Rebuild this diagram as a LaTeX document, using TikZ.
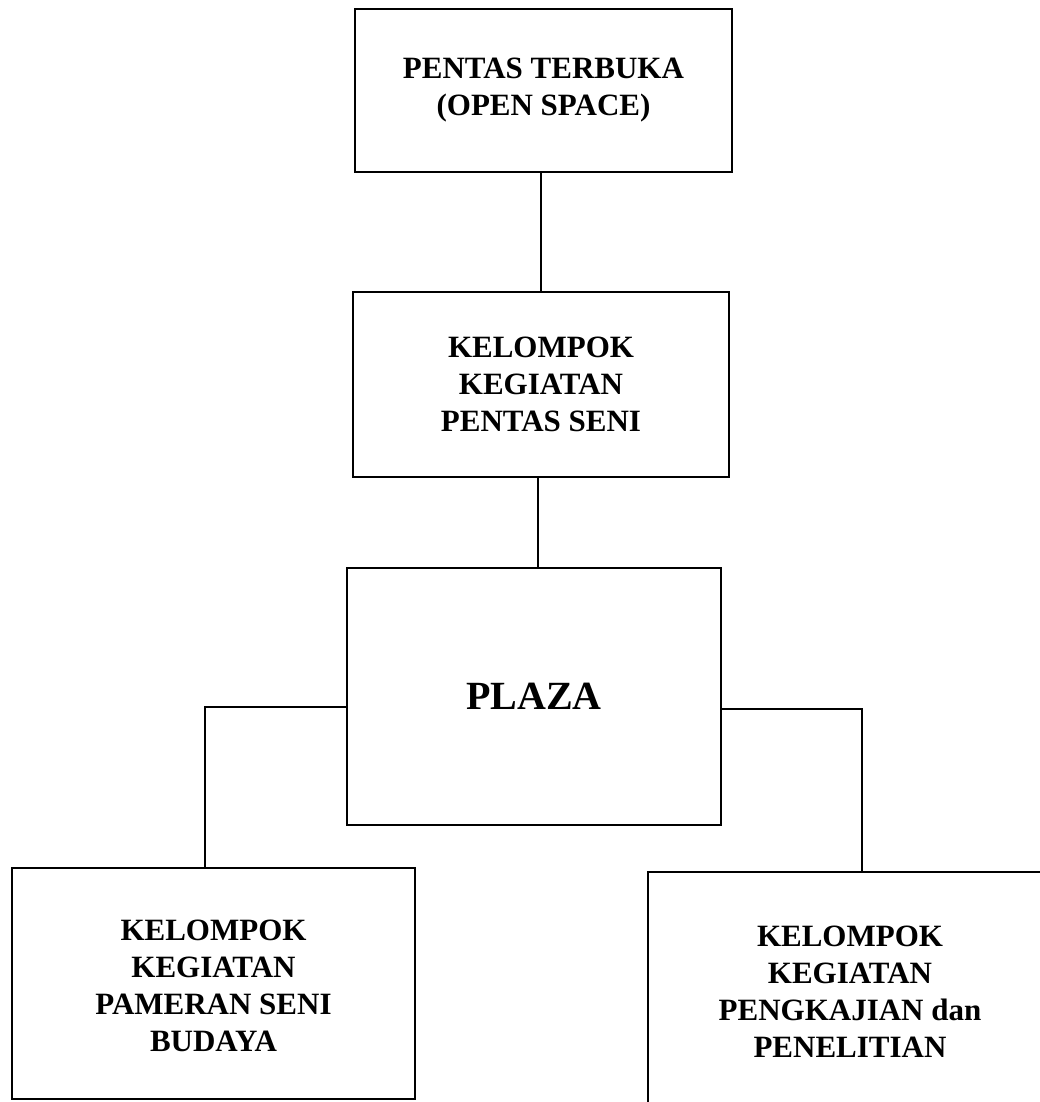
\documentclass[tikz,border=0pt]{standalone}
\usepackage{fontspec}
\setmainfont{Liberation Serif}
\begin{document}
\begin{tikzpicture}[x=1pt, y=-1pt,
  box/.style={draw, line width=2pt, inner sep=0pt, align=center,
    font=\bfseries\fontsize{31}{37}\selectfont},
  link/.style={line width=1.8pt}]
\useasboundingbox (0,0) rectangle (1040,1102);

% boxes
\node[box, minimum width=377pt, minimum height=163pt] (b1) at (543.5,90.5)
  {PENTAS TERBUKA\\(OPEN SPACE)};
\node[box, minimum width=376pt, minimum height=185pt] (b2) at (541,384)
  {KELOMPOK\\KEGIATAN\\PENTAS SENI};
\node[box, minimum width=374pt, minimum height=257pt,
  font=\bfseries\fontsize{40}{48}\selectfont] (b3) at (534,696.5) {PLAZA};
\node[box, minimum width=403pt, minimum height=231pt] (b4) at (213.5,983.5)
  {\\[-12pt]KELOMPOK\\KEGIATAN\\PAMERAN SENI\\BUDAYA};
\node[box, minimum width=404pt, minimum height=240pt] (b5) at (850,992)
  {KELOMPOK\\KEGIATAN\\PENGKAJIAN dan\\PENELITIAN};

% elbow points of the side branches
\coordinate (jl) at (205,707);
\coordinate (jr) at (862,709);

% connectors
\draw[link] (b2.north -| 541,0) -- (b1.south -| 541,0);
\draw[link] (b2.south -| 538,0) -- (b3.north -| 538,0);
\draw[link] (b3.west |- jl) -- (jl) -- (jl |- b4.north);
\draw[link] (b3.east |- jr) -- (jr) -- (jr |- b5.north);
\end{tikzpicture}
\end{document}
